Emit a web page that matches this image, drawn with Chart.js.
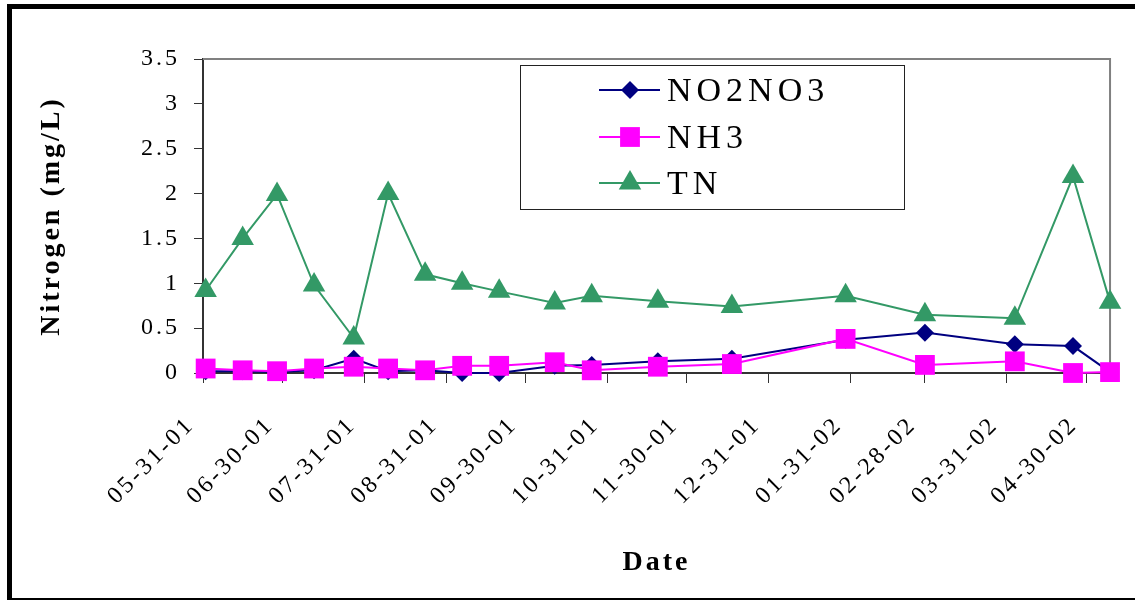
<!DOCTYPE html>
<html>
<head>
<meta charset="utf-8">
<title>Nitrogen</title>
<script src="https://cdn.jsdelivr.net/npm/chart.js@4/dist/chart.umd.min.js"></script>
<style>
  html, body { margin: 0; padding: 0; background: #fff; overflow: hidden; }
  #wrap { position: relative; width: 1135px; height: 600px; }
  #chart { position: absolute; left: 0; top: 0; }
  #frame {
    position: absolute; left: 7px; top: 4px; width: 1200px; height: 589px;
    border-top: 5px solid #000; border-left: 5px solid #000; border-bottom: 2px solid #000;
    pointer-events: none;
  }
</style>
</head>
<body>
<div id="wrap">
  <canvas id="chart" width="1135" height="600"></canvas>
  <div id="frame"></div>
</div>
<script>
(function() {
  'use strict';

  // sample dates (MM-DD-YY)
  var sampleDates = ['06-01-01', '06-15-01', '06-28-01', '07-12-01', '07-27-01', '08-09-01',
    '08-23-01', '09-06-01', '09-20-01', '10-11-01', '10-25-01', '11-19-01', '12-17-01',
    '01-29-02', '02-28-02', '04-03-02', '04-25-02', '05-09-02'];

  var no2no3 = [0.02, 0.02, 0.01, 0.03, 0.16, 0.02, 0.03, 0.0, 0.0, 0.08, 0.09, 0.13, 0.16,
    0.37, 0.45, 0.32, 0.30, 0.01];
  var nh3 = [0.05, 0.03, 0.02, 0.05, 0.07, 0.05, 0.03, 0.08, 0.08, 0.12, 0.03, 0.07, 0.10,
    0.38, 0.09, 0.13, 0.0, 0.01];
  var tn = [0.92, 1.50, 1.99, 0.98, 0.39, 2.00, 1.10, 1.00, 0.91, 0.78, 0.86, 0.80, 0.74,
    0.86, 0.65, 0.61, 2.19, 0.79];

  var tickLabels = ['05-31-01', '06-30-01', '07-31-01', '08-31-01', '09-30-01', '10-31-01',
    '11-30-01', '12-31-01', '01-31-02', '02-28-02', '03-31-02', '04-30-02'];
  var yTicks = [0, 0.5, 1, 1.5, 2, 2.5, 3, 3.5];

  var FONT = "'Liberation Serif', 'Times New Roman', serif";
  var SPACING = '3px';

  /** 'MM-DD-YY' -> whole days since epoch */
  function toDay(s) {
    var p = s.split('-');
    return Math.round(Date.UTC(2000 + (+p[2]), +p[0] - 1, +p[1]) / 86400000);
  }

  var tickDays = tickLabels.map(toDay);
  var pointDays = sampleDates.map(toDay);

  function series(values) {
    return values.map(function(v, i) { return { x: pointDays[i], y: v }; });
  }

  var datasets = [
    { label: 'NO2NO3', data: series(no2no3), borderColor: '#000080', backgroundColor: '#000080',
      pointStyle: 'rectRot', pointRadius: 9, order: 3 },
    { label: 'NH3', data: series(nh3), borderColor: '#ff00ff', backgroundColor: '#ff00ff',
      pointStyle: 'rect', pointRadius: 14, order: 2 },
    { label: 'TN', data: series(tn), borderColor: '#339966', backgroundColor: '#339966',
      pointStyle: 'triangle', pointRadius: 13, order: 1 }
  ];
  datasets.forEach(function(d) {
    d.borderWidth = 2;
    d.pointBorderWidth = 0;
    d.pointHoverRadius = d.pointRadius;
    d.tension = 0;
    d.clip = false;
  });

  /** canvas letter spacing, to get the wide look of the original type */
  var spacingPlugin = {
    id: 'spacing',
    beforeLayout: function(chart) { chart.ctx.letterSpacing = SPACING; },
    beforeDraw: function(chart) { chart.ctx.letterSpacing = SPACING; }
  };

  /** gray top/right edges of the plot area */
  var plotBorder = {
    id: 'plotBorder',
    beforeDatasetsDraw: function(chart) {
      var a = chart.chartArea, ctx = chart.ctx;
      ctx.save();
      ctx.strokeStyle = '#808080';
      ctx.lineWidth = 2;
      ctx.beginPath();
      ctx.moveTo(a.left, a.top);
      ctx.lineTo(a.right, a.top);
      ctx.lineTo(a.right, a.bottom);
      ctx.stroke();
      ctx.restore();
    }
  };

  /** boxed legend inside the plot area */
  var boxLegend = {
    id: 'boxLegend',
    afterDraw: function(chart) {
      var a = chart.chartArea, ctx = chart.ctx;
      var left = a.left + 317, top = a.top + 6, w = 384, h = 144;
      var rows = [25, 72, 118];
      ctx.save();
      ctx.fillStyle = '#fff';
      ctx.fillRect(left, top, w, h);
      ctx.strokeStyle = '#222';
      ctx.lineWidth = 1;
      ctx.strokeRect(left + 0.5, top + 0.5, w, h);
      chart.data.datasets.forEach(function(ds, i) {
        var y = top + rows[i];
        ctx.strokeStyle = ds.borderColor;
        ctx.lineWidth = 2;
        ctx.beginPath();
        ctx.moveTo(left + 79, y);
        ctx.lineTo(left + 140, y);
        ctx.stroke();
        ctx.fillStyle = ds.backgroundColor;
        Chart.helpers.drawPoint(ctx, {
          pointStyle: ds.pointStyle,
          radius: ds.pointRadius,
          rotation: 0,
          borderWidth: 0
        }, left + 110, y);
        ctx.fillStyle = '#000';
        ctx.font = '34px ' + FONT;
        ctx.letterSpacing = '5px';
        ctx.textAlign = 'left';
        ctx.textBaseline = 'middle';
        ctx.fillText(ds.label, left + 147, y + 2);
      });
      ctx.restore();
    }
  };

  new Chart(document.getElementById('chart'), {
    type: 'line',
    data: { datasets: datasets },
    plugins: [spacingPlugin, plotBorder, boxLegend],
    options: {
      responsive: false,
      animation: false,
      devicePixelRatio: 1,
      layout: { padding: { left: 0, top: 59, right: 15, bottom: 0 } },
      plugins: { legend: { display: false }, tooltip: { enabled: false } },
      scales: {
        x: {
          type: 'linear',
          min: tickDays[0],
          max: pointDays[pointDays.length - 1],
          afterBuildTicks: function(scale) {
            scale.ticks = tickDays.map(function(d) { return { value: d }; });
          },
          afterFit: function(scale) { scale.height = 227; },
          ticks: {
            autoSkip: false,
            minRotation: 45,
            maxRotation: 45,
            padding: 28,
            labelOffset: -12,
            color: '#000',
            font: { family: FONT, size: 24 },
            callback: function(v) { return tickLabels[tickDays.indexOf(v)]; }
          },
          grid: { drawOnChartArea: false, drawTicks: true, tickLength: 10, color: '#333' },
          border: { color: '#333', width: 2 },
          title: {
            display: true, text: 'Date', color: '#000',
            font: { family: FONT, size: 28, weight: 'bold' },
            padding: { top: 0, bottom: 20 }
          }
        },
        y: {
          min: yTicks[0],
          max: yTicks[yTicks.length - 1],
          afterBuildTicks: function(scale) {
            scale.ticks = yTicks.map(function(v) { return { value: v }; });
          },
          afterFit: function(scale) { scale.width = 203; },
          ticks: {
            padding: 14,
            color: '#000',
            font: { family: FONT, size: 24 },
            callback: function(v) { return String(v); }
          },
          grid: { drawOnChartArea: false, drawTicks: true, tickLength: 9, color: '#333' },
          border: { color: '#333', width: 2 },
          title: {
            display: true, text: 'Nitrogen (mg/L)', color: '#000',
            font: { family: FONT, size: 28, weight: 'bold' },
            padding: { top: 35, bottom: 0 }
          }
        }
      }
    }
  });
})();
</script>
</body>
</html>
